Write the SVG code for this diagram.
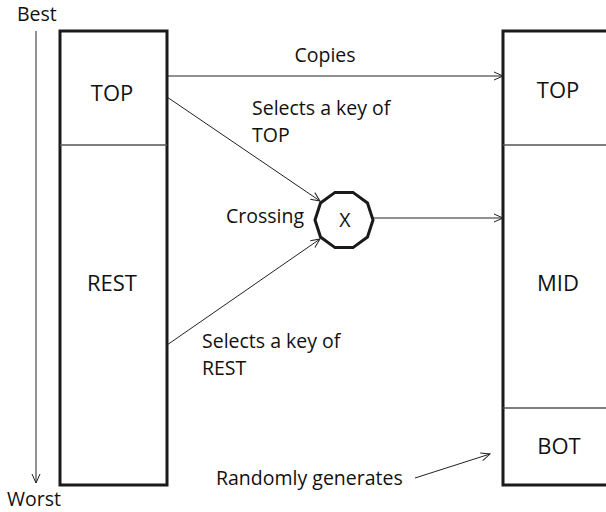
<svg xmlns="http://www.w3.org/2000/svg" width="606" height="512" viewBox="0 0 606 512">
  <defs>
    <marker id="open" viewBox="0 0 12 12" refX="11" refY="6" markerWidth="12" markerHeight="12" markerUnits="userSpaceOnUse" orient="auto">
      <path d="M2,2 L11,6 L2,10" fill="none" stroke="#222" stroke-width="1"/>
    </marker>
  </defs>
  <style>
    text { font-family: "Open Sans", "Liberation Sans", sans-serif; font-size: 19.5px; fill: #111; }
    .c { text-anchor: middle; }
    .big { font-size: 22px; }
    .box { fill: #fff; stroke: #1a1a1a; stroke-width: 3; }
    .div { stroke: #555; stroke-width: 1.5; }
    .arr { fill: none; stroke: #222; stroke-width: 1; marker-end: url(#open); }
  </style>
  <rect width="606" height="512" fill="#fff"/>

  <!-- ranking axis -->
  <g id="axis">
    <line x1="36" y1="31" x2="36" y2="483" class="arr"/>
    <text x="17" y="21">Best</text>
    <text x="7" y="506">Worst</text>
  </g>

  <!-- current population -->
  <g id="population">
    <rect x="60" y="31" width="107" height="454" class="box"/>
    <line x1="60" y1="145" x2="167" y2="145" class="div"/>
    <text x="112" y="101" class="c big">TOP</text>
    <text x="112" y="291" class="c big">REST</text>
  </g>

  <!-- next population -->
  <g id="next">
    <rect x="503" y="31" width="120" height="454" class="box"/>
    <line x1="503" y1="145" x2="606" y2="145" class="div"/>
    <line x1="503" y1="408" x2="606" y2="408" class="div"/>
    <text x="558" y="98" class="c big">TOP</text>
    <text x="558" y="291" class="c big">MID</text>
    <text x="559" y="454" class="c big">BOT</text>
  </g>

  <!-- crossover operator -->
  <g id="crossing">
    <polygon points="373,220 367.5,237 353,247.6 335,247.6 320.5,237 315,220 320.5,203 335,192.4 353,192.4 367.5,203" fill="#fff" stroke="#1a1a1a" stroke-width="3"/>
    <text x="345" y="227" class="c">X</text>
    <text x="304" y="223" text-anchor="end">Crossing</text>
  </g>

  <g id="connectors">
    <line x1="167" y1="76" x2="503" y2="76" class="arr"/>
    <line x1="167" y1="97" x2="320" y2="201" class="arr"/>
    <line x1="167" y1="345" x2="320" y2="239" class="arr"/>
    <line x1="373" y1="218" x2="503" y2="218" class="arr"/>
    <line x1="415" y1="478" x2="490" y2="454" class="arr"/>
  </g>

  <g id="labels">
    <text x="325" y="62" class="c">Copies</text>
    <text x="252" y="115">Selects a key of</text>
    <text x="252" y="142">TOP</text>
    <text x="202" y="348">Selects a key of</text>
    <text x="202" y="375">REST</text>
    <text x="216" y="485">Randomly generates</text>
  </g>
</svg>
